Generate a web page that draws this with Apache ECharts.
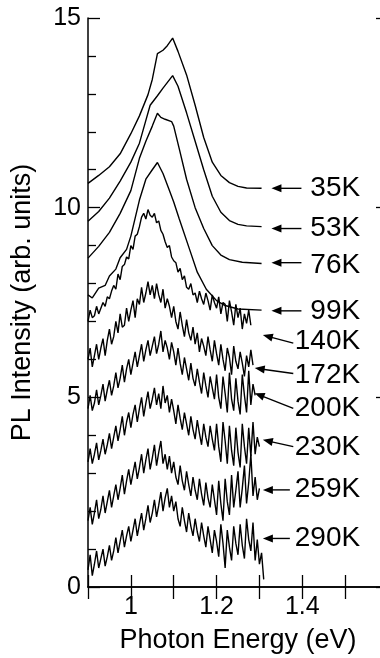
<!DOCTYPE html>
<html><head><meta charset="utf-8">
<script src="https://cdn.jsdelivr.net/npm/echarts@6/dist/echarts.min.js"></script>
<style>html,body{margin:0;padding:0;background:#fff}#c{width:380px;height:658px}</style>
</head><body><div id="c"></div>
<script>
// ---- smooth spectra (photon energy eV, PL intensity arb. units) ----
const e35 = [0.90,0.925,0.95,0.975,1.00,1.02,1.04,1.05,1.062,1.075,1.085,1.0975,1.11,1.13,1.15,1.17,1.19,1.21,1.23,1.25,1.27,1.305];
const v35 = [10.64,10.85,11.08,11.42,11.95,12.42,12.98,13.38,14.06,14.15,14.27,14.47,14.12,13.5,12.7,11.85,11.2,10.85,10.66,10.56,10.52,10.51];
const e53 = [0.90,0.925,0.95,0.975,1.00,1.02,1.035,1.045,1.062,1.075,1.0975,1.11,1.13,1.15,1.17,1.19,1.21,1.23,1.25,1.27,1.305];
const v53 = [9.64,9.90,10.25,10.70,11.2,11.7,12.3,12.7,12.95,13.15,13.48,13.2,12.5,11.75,11.0,10.3,9.88,9.66,9.56,9.52,9.50];
const e76 = [0.90,0.925,0.95,0.975,1.00,1.02,1.035,1.05,1.062,1.07,1.08,1.095,1.10,1.113,1.13,1.15,1.17,1.19,1.21,1.23,1.26,1.305];
const v76 = [8.67,8.98,9.35,9.85,10.45,11.3,11.75,12.15,12.49,12.38,12.33,12.27,12.15,11.55,10.75,10.0,9.45,9.0,8.75,8.63,8.56,8.53];
const e99 = [0.90,0.91,0.925,0.94,0.95,0.965,0.975,0.99,1.00,1.02,1.035,1.05,1.062,1.075,1.09,1.10,1.113,1.137,1.155,1.176,1.20,1.22,1.25,1.305];
const v99 = [7.70,7.62,7.88,7.95,8.2,8.38,8.68,8.9,9.25,10.2,10.75,11.0,11.19,10.9,10.45,10.15,9.7,8.9,8.3,7.85,7.55,7.42,7.33,7.30];

// ---- noisy spectra, sampled from noisyStartE every noisyStepE ----
const noisyStartE = 0.9;
const noisyStepE = 0.005;
const v140 = [7.0,7.3,7.1,7.15,7.4,7.2,7.35,7.5,7.4,7.65,
 7.6,7.8,7.95,7.85,8.25,8.1,8.45,8.5,8.7,8.65,
 9.0,8.9,9.25,9.3,9.5,9.75,9.85,9.7,9.95,9.8,
 9.75,9.85,9.6,9.65,9.4,9.3,9.1,8.95,9.0,8.7,
 8.6,8.55,8.3,8.4,8.1,8.2,7.9,7.85,8.0,7.7,
 7.75,7.5,7.8,7.6,7.45,7.75,7.55,7.3,7.7,7.5,
 7.35,7.65,7.2,7.5,7.45,7.0,7.55,7.25,6.9,7.45,
 7.1,7.35,6.8,7.2,6.95,7.3,6.9];
const v172 = [6.0,6.3,5.8,6.1,6.4,6.0,6.3,6.55,6.1,6.5,
 6.8,6.4,6.6,7.0,6.7,7.2,6.85,6.9,7.35,7.0,
 7.3,7.55,7.1,7.6,7.45,7.9,7.5,7.75,8.05,7.7,
 7.95,7.6,8.0,7.7,7.5,7.85,7.35,7.6,7.4,7.1,
 7.4,7.0,6.8,7.25,6.9,6.6,7.05,6.7,6.5,6.85,
 6.4,6.7,6.2,6.55,6.35,6.1,6.6,6.25,5.95,6.5,
 6.15,5.85,6.4,6.0,5.7,6.3,6.05,5.6,6.35,5.95,
 5.75,6.2,5.9,5.55,6.1,5.8,6.25,5.85];
const v200 = [4.7,5.05,4.65,4.85,5.2,4.8,5.05,5.35,4.9,5.2,
 5.45,5.05,5.3,5.65,5.25,5.5,5.85,5.4,5.75,6.0,
 5.6,5.9,6.2,5.8,6.1,6.4,5.95,6.25,6.5,6.1,
 6.35,6.6,6.15,6.4,6.75,6.2,6.5,6.3,6.0,6.45,
 6.2,5.85,6.3,5.9,5.6,6.05,5.75,5.45,5.9,5.5,
 5.3,5.75,5.4,5.1,5.65,5.3,5.0,5.55,5.25,4.95,
 5.6,5.0,4.7,5.55,5.1,4.6,5.65,4.95,4.65,5.5,
 4.9,4.55,5.6,5.05,4.6,5.7,4.8,5.35,5.05];
const v230 = [3.3,3.65,3.25,3.5,3.8,3.35,3.6,3.9,3.5,3.75,
 4.05,3.65,3.95,4.25,3.85,4.15,4.5,4.0,4.35,4.6,
 4.2,4.55,4.8,4.35,4.7,5.0,4.5,4.85,5.15,4.7,
 4.95,5.25,4.8,5.1,4.7,5.3,4.85,5.05,4.6,4.95,
 4.65,4.3,4.8,4.45,4.15,4.6,4.3,4.0,4.5,4.15,
 3.9,4.4,4.05,3.75,4.3,3.95,3.7,4.25,3.9,3.6,
 4.3,3.7,3.3,4.35,3.85,3.25,4.25,3.6,3.2,4.2,
 3.55,3.15,4.3,3.7,3.25,4.2,3.45,4.35,3.5,3.95,
 3.7];
const v259 = [1.75,2.1,1.65,1.95,2.3,1.8,2.05,2.4,1.95,2.25,
 2.55,2.1,2.4,2.7,2.3,2.6,2.95,2.45,2.8,3.1,
 2.7,3.0,3.3,2.85,3.15,3.5,3.0,3.35,3.65,3.1,
 3.4,3.75,3.2,3.55,3.85,3.25,3.5,3.1,3.45,3.0,
 3.3,2.9,2.7,3.2,2.8,2.55,3.05,2.7,2.4,2.9,
 2.55,2.3,2.85,2.45,2.15,2.75,2.35,2.1,2.7,2.3,
 1.9,2.8,2.2,1.75,2.85,2.25,1.9,2.95,2.1,2.55,
 3.05,2.1,2.6,3.2,2.2,2.75,3.5,2.4,2.9,2.3,
 2.6];
const v290 = [0.45,0.85,0.3,0.6,0.95,0.5,0.75,1.0,0.55,0.8,
 1.1,0.7,0.95,1.3,0.9,1.2,1.5,1.05,1.35,1.6,
 1.2,1.5,1.8,1.35,1.65,1.95,1.5,1.8,2.15,1.7,
 1.95,2.3,1.85,2.15,2.5,2.0,2.35,2.6,2.1,2.4,
 2.0,2.25,1.8,1.6,2.1,1.75,1.45,1.95,1.6,1.35,
 1.8,1.45,1.2,1.7,1.35,1.05,1.6,1.25,0.9,1.5,
 1.2,0.8,1.65,1.15,0.5,1.5,1.05,0.7,1.6,1.15,
 0.85,1.65,1.1,0.75,1.8,1.25,0.95,1.7,0.7,1.25,
 0.6,0.9,0.2];

// ---- axes ----
const xMin = 0.9, xMax = 1.6, xStep = 0.1;
const xLabelTicks = [1, 1.2, 1.4];
const yMin = 0, yMax = 15, yStep = 5;

// ---- temperature annotations (data units: E, intensity) ----
const tempLabels = ['35K','53K','76K','99K','140K','172K','200K','230K','259K','290K'];
const arrowTail = [[1.398,10.51],[1.398,9.45],[1.398,8.55],[1.398,7.28],[1.379,6.43],[1.379,5.63],[1.379,4.71],[1.379,3.70],[1.371,2.56],[1.371,1.28]];
const arrowTip  = [[1.328,10.51],[1.328,9.45],[1.328,8.55],[1.328,7.28],[1.308,6.64],[1.289,5.77],[1.289,5.11],[1.308,3.88],[1.308,2.56],[1.308,1.28]];
const labelPos  = [[1.535,10.51],[1.535,9.45],[1.535,8.49],[1.535,7.28],[1.535,6.49],[1.535,5.59],[1.535,4.72],[1.535,3.69],[1.535,2.58],[1.535,1.29]];

const FONT = '"Liberation Sans", Arial, sans-serif';

function pairs(es, vs){ return es.map((e,i)=>[e, vs[i]]); }
function noisyPairs(vs){ return vs.map((v,i)=>[+(noisyStartE + i*noisyStepE).toFixed(4), v]); }

const curves = [
  pairs(e35,v35), pairs(e53,v53), pairs(e76,v76), pairs(e99,v99),
  noisyPairs(v140), noisyPairs(v172), noisyPairs(v200), noisyPairs(v230), noisyPairs(v259), noisyPairs(v290)
];

const chart = echarts.init(document.getElementById('c'), null, {renderer:'canvas'});
const axisLine = {show:true, lineStyle:{color:'#000', width:1.5}};
const tickStyle = {color:'#000', width:1.3};
const option = {
  animation:false,
  backgroundColor:'#fff',
  grid:{left:88, top:18, width:300, bottom:71, outerBoundsMode:'none', containLabel:false},
  xAxis:[{
    type:'value', min:xMin, max:xMax, interval:xStep, position:'bottom',
    axisLine, splitLine:{show:false},
    axisTick:{show:true, inside:true, length:12, lineStyle:tickStyle},
    axisLabel:{color:'#000', fontSize:25, fontFamily:FONT, margin:8, showMaxLabel:false,
      formatter:v=>{const r=Math.round(v*10)/10; return xLabelTicks.some(t=>Math.abs(t-r)<1e-6)? String(r):'';}},
    name:'Photon Energy (eV)', nameLocation:'middle', nameGap:40,
    nameTextStyle:{color:'#000', fontSize:27, fontFamily:FONT}
  },{
    type:'value', min:xMin, max:xMax, interval:xStep, position:'top',
    axisLine, splitLine:{show:false}, axisLabel:{show:false},
    axisTick:{show:true, inside:true, length:12, lineStyle:tickStyle}
  }],
  yAxis:[{
    type:'value', min:yMin, max:yMax, interval:yStep, position:'left',
    axisLine, splitLine:{show:false},
    axisTick:{show:true, inside:true, length:12, lineStyle:tickStyle},
    minorTick:{show:true, splitNumber:5, length:8, lineStyle:tickStyle},
    axisLabel:{color:'#000', fontSize:25, fontFamily:FONT, margin:7},
    name:'PL Intensity (arb. units)', nameLocation:'middle', nameGap:52, nameRotate:90,
    nameTextStyle:{color:'#000', fontSize:27, fontFamily:FONT}
  },{
    type:'value', min:yMin, max:yMax, interval:yStep, position:'right',
    axisLine, splitLine:{show:false}, axisLabel:{show:false},
    axisTick:{show:true, inside:true, length:12, lineStyle:tickStyle},
    minorTick:{show:true, splitNumber:5, length:8, lineStyle:tickStyle}
  }],
  series: curves.map((d,i)=>({
    type:'line', name:tempLabels[i], data:d, xAxisIndex:0, yAxisIndex:0,
    showSymbol:false, symbol:'none', smooth:false, clip:true,
    lineStyle:{color:'#000', width:1.4}
  }))
};
chart.setOption(option);

const g = [];
const toPx = p => chart.convertToPixel({gridIndex:0}, p);
tempLabels.forEach((t,i)=>{
  const a = toPx(arrowTail[i]), b = toPx(arrowTip[i]), l = toPx(labelPos[i]);
  const dx = b[0]-a[0], dy = b[1]-a[1], len = Math.hypot(dx,dy);
  const ux = dx/len, uy = dy/len, hl = 10, hw = 4;
  const bx = b[0]-ux*hl, by = b[1]-uy*hl;
  g.push({type:'line', shape:{x1:a[0], y1:a[1], x2:bx+ux*2, y2:by+uy*2}, style:{stroke:'#000', lineWidth:1.4}});
  g.push({type:'polygon', shape:{points:[[b[0],b[1]],[bx-uy*hw, by+ux*hw],[bx+uy*hw, by-ux*hw]]}, style:{fill:'#000'}});
  g.push({type:'text', style:{text:t, x:l[0], y:l[1], font:'28px '+FONT, fill:'#000', align:'right', verticalAlign:'middle', textAlign:'right', textVerticalAlign:'middle'}});
});
chart.setOption({graphic:g});
</script></body></html>
